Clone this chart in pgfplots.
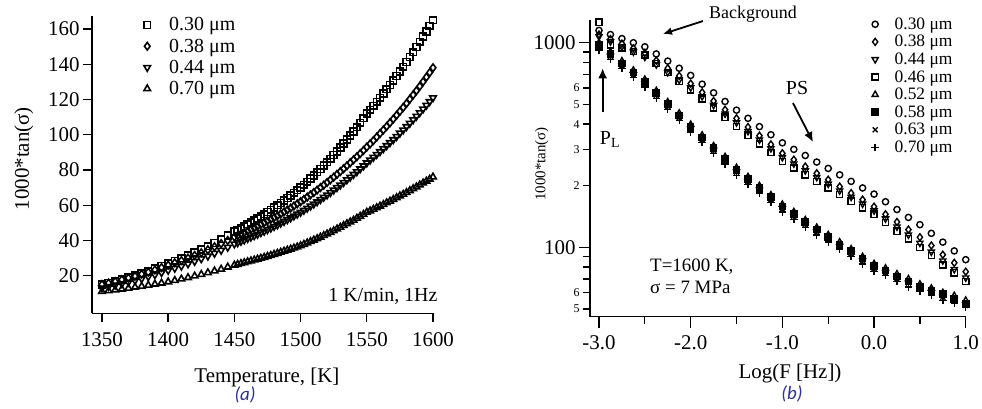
\documentclass[border=0pt]{standalone}
\usepackage{fontspec}
\setmainfont{Liberation Serif}
\newfontfamily\labfont{Carlito}
\usepackage{pgfplots}
\usepackage{pgfplotstable}
\pgfplotsset{compat=1.18}
\usetikzlibrary{arrows.meta}
\definecolor{labblue}{RGB}{45,50,140}

\pgfplotstableread{
T a b c d
1350 15.0 15.0 13.0 11.0
1355 15.9 15.8 13.8 11.5
1360 16.9 16.7 14.6 11.9
1365 17.9 17.7 15.4 12.4
1370 19.0 18.7 16.3 12.9
1375 20.1 19.7 17.3 13.5
1380 21.4 20.9 18.3 14.0
1385 22.6 22.0 19.4 14.6
1390 24.0 23.3 20.5 15.2
1395 25.5 24.6 21.7 15.8
1400 27.0 26.0 23.0 16.5
1405 28.4 27.3 24.2 17.3
1410 29.9 28.6 25.4 18.1
1415 31.5 30.0 26.7 18.9
1420 33.1 31.5 28.1 19.8
1425 34.9 33.0 29.6 20.7
1430 36.7 34.7 31.1 21.7
1435 38.6 36.4 32.7 22.7
1440 40.7 38.2 34.4 23.7
1445 42.8 40.0 36.1 24.9
1450 45.0 42.0 38.0 26.0
1452.5 46.0 42.8 38.7 26.4
1455 47.0 43.7 39.5 26.9
1457.5 48.1 44.5 40.3 27.4
1460 49.2 45.4 41.1 27.9
1462.5 50.3 46.3 41.9 28.4
1465 51.4 47.2 42.7 28.9
1467.5 52.5 48.1 43.5 29.4
1470 53.7 49.1 44.4 29.9
1472.5 54.9 50.1 45.2 30.4
1475 56.1 51.1 46.1 31.0
1477.5 57.4 52.0 47.0 31.5
1480 58.7 53.0 47.9 32.1
1482.5 60.0 54.0 48.8 32.7
1485 61.3 55.1 49.8 33.3
1487.5 62.7 56.2 50.8 33.9
1490 64.1 57.3 51.8 34.5
1492.5 65.5 58.4 52.8 35.1
1495 67.0 59.6 53.9 35.7
1497.5 68.5 60.8 54.9 36.3
1500 70.0 62.0 56.0 37.0
1502.5 71.6 63.3 57.1 37.8
1505 73.3 64.6 58.3 38.6
1507.5 75.1 65.9 59.5 39.4
1510 76.9 67.2 60.7 40.2
1512.5 78.7 68.6 61.9 41.0
1515 80.6 70.0 63.2 41.9
1517.5 82.5 71.4 64.5 42.8
1520 84.4 72.9 65.8 43.7
1522.5 86.4 74.4 67.2 44.6
1525 88.5 75.9 68.6 45.5
1527.5 90.6 77.5 70.0 46.5
1530 92.8 79.1 71.4 47.5
1532.5 95.0 80.7 72.9 48.5
1535 97.2 82.4 74.4 49.5
1537.5 99.5 84.1 75.9 50.5
1540 101.9 85.8 77.5 51.5
1542.5 104.3 87.5 79.0 52.6
1545 106.8 89.3 80.6 53.7
1547.5 109.4 91.1 82.3 54.8
1550 112.0 93.0 84.0 56.0
1552.5 114.2 94.8 85.6 56.8
1555 116.4 96.7 87.2 57.7
1557.5 118.7 98.7 88.8 58.6
1560 121.0 100.7 90.4 59.5
1562.5 123.4 102.7 92.1 60.4
1565 125.8 104.7 93.8 61.4
1567.5 128.2 106.8 95.5 62.3
1570 130.7 108.9 97.2 63.3
1572.5 133.3 111.1 99.0 64.3
1575 135.9 113.3 100.9 65.3
1577.5 138.6 115.5 102.7 66.2
1580 141.3 117.8 104.6 67.2
1582.5 144.1 120.2 106.5 68.3
1585 146.9 122.6 108.5 69.4
1587.5 149.8 125.0 110.5 70.4
1590 152.7 127.5 112.5 71.5
1592.5 155.7 130.1 114.6 72.6
1595 158.7 132.7 116.7 73.7
1597.5 161.8 135.3 118.8 74.8
1600 165.0 138.0 121.0 76.0
}\tabA

\pgfplotstableread{
x a b c d e f g h
-3     1148 1096 1072 1260 1000 975 950 920
-2.875 1096 1041 1012 977  902  879 857 830
-2.75  1047 989  955  944  813  793 772 748
-2.625 1000 939  902  907  733  715 696 674
-2.5   955  891  851  871  661  644 628 608
-2.375 881  818  781  790  582  567 553 535
-2.25  813  750  716  716  513  500 487 472
-2.125 750  688  657  649  452  441 429 416
-2     692  631  603  589  398  388 378 366
-1.875 627  572  546  531  353  344 335 325
-1.75  569  519  495  479  313  305 297 288
-1.625 516  470  449  432  277  270 263 255
-1.5   468  427  407  389  245  239 233 225
-1.375 427  387  369  353  221  215 210 203
-1.25  389  351  335  320  200  195 190 184
-1.125 355  318  304  290  180  176 171 166
-1     324  288  275  263  162  158 154 149
-0.875 301  268  256  244  149  145 142 137
-0.75  281  248  237  226  136  133 129 125
-0.625 261  230  220  210  125  122 119 115
-0.5   243  214  204  195  115  112 109 106
-0.375 226  198  189  181  106  103 101 98
-0.25  210  184  176  168  98   96  93  90
-0.125 195  171  163  156  90   88  86  83
0      182  158  151  145  83   81  79  76
0.125  167  145  138  132  79   77  75  73
0.25   153  133  126  120  74   72  70  68
0.375  140  122  115  110  70   68  67  64
0.5    129  112  105  100  66   64  63  61
0.625  117  102  95   91   63   61  60  58
0.75   106  92   86   82   60   59  57  55
0.875  96   84   78   75   58   56  55  53
1      87   76   71   68   55   53  52  51
}\tabB

\begin{document}
\begin{tikzpicture}
\useasboundingbox (0,0) rectangle (982bp,409bp);
% ---------------- panel (a)
\begin{axis}[
  at={(92bp,95.7bp)}, anchor=south west,
  width=341bp, height=297.3bp, scale only axis,
  xmin=1342.5, xmax=1600, ymin=-1.35, ymax=167.4,
  axis lines=left, axis line style={-, line width=1.4bp},
  tick align=outside, major tick length=9bp,
  every tick/.style={line width=1.3bp, black},
  xtick={1350,1400,...,1600}, ytick={20,40,...,160},
  /pgf/number format/assume math mode=true,
  /pgf/number format/1000 sep={},
  tick label style={font=\fontsize{21}{23}\selectfont},
  xticklabel style={yshift=-7bp},
  xlabel={Temperature, [K]}, ylabel={1000*tan(σ)},
  label style={font=\fontsize{21}{23}\selectfont},
  xlabel style={at={(axis description cs:0.513,-0.215)}, anchor=center},
  ylabel style={at={(axis description cs:-0.2,0.52)}, anchor=center},
  clip=false,
  legend style={draw=none, fill=none, at={(axis description cs:0.135,0.9985)}, anchor=north west,
    font=\fontsize{20}{22}\selectfont, row sep=4.5bp, inner sep=0pt,
    nodes={inner sep=1bp}},
  legend cell align=left,
  every axis plot/.append style={only marks, black, mark size=3.4bp, mark options={line width=1.6bp},
    legend image code/.code={\path[draw=none] (0bp,0bp) -- (30bp,0bp); \draw[##1,only marks] plot coordinates {(9bp,0bp)};}},
]
\addplot[mark=square] table[x=T,y=a] {\tabA}; \addlegendentry{0.30 μm}
\addplot[mark=diamond, mark size=3.8bp] table[x=T,y=b] {\tabA}; \addlegendentry{0.38 μm}
\addplot[mark=triangle, mark size=3.8bp, mark options={line width=1.6bp, rotate=180}] table[x=T,y=c] {\tabA}; \addlegendentry{0.44 μm}
\addplot[mark=triangle, mark size=3.8bp] table[x=T,y=d] {\tabA}; \addlegendentry{0.70 μm}
\node[anchor=east, font=\fontsize{20}{22}\selectfont] at (axis cs:1606,8) {1 K/min, 1Hz};
\node[font=\labfont\itshape\fontsize{19}{21}\selectfont, text=labblue] at (axis description cs:0.449,-0.276) {(a)};
\end{axis}
% ---------------- panel (b)
\begin{axis}[
  at={(590bp,92.3bp)}, anchor=south west,
  width=376bp, height=296.7bp, scale only axis,
  xmin=-3.098, xmax=1.003, ymode=log, ymin=45.8, ymax=1291,
  axis lines=left, axis line style={-, line width=1.4bp},
  tick align=outside, major tick length=11bp, minor tick length=7bp,
  every tick/.style={line width=1.3bp, black},
  xtick={-3,-2,-1,0,1}, xticklabels={-3.0,-2.0,-1.0,0.0,1.0},
  minor xtick={-2.5,-1.5,-0.5,0.5},
  ytick={100,1000}, yticklabels={100,1000},
  minor ytick={50,60,70,80,90,200,300,400,500,600,700,800,900},
  extra y ticks={50,60,200,300,400,500,600}, extra y tick labels={5,6,2,3,4,5,6},
  extra y tick style={major tick length=7bp, tick label style={font=\fontsize{12}{13}\selectfont}},
  /pgf/number format/assume math mode=true,
  tick label style={font=\fontsize{21}{23}\selectfont},
  xticklabel style={yshift=-4bp},
  xlabel={Log(F [Hz])}, ylabel={1000*tan(σ)},
  xlabel style={font=\fontsize{21}{23}\selectfont, at={(axis description cs:0.532,-0.19)}, anchor=center},
  ylabel style={font=\fontsize{15}{17}\selectfont, at={(axis description cs:-0.128,0.515)}, anchor=center},
  clip=false,
  legend style={draw=none, fill=none, at={(axis description cs:0.734,1.010)}, anchor=north west,
    font=\fontsize{17.5}{19}\selectfont, row sep=3.5bp, inner sep=0pt,
    nodes={inner sep=0.5bp}},
  legend cell align=left,
  every axis plot/.append style={only marks, black, mark size=3.1bp, mark options={line width=1.4bp},
    legend image code/.code={\path[draw=none] (0bp,0bp) -- (28bp,0bp); \draw[##1,only marks] plot coordinates {(9bp,0bp)};}},
]
\addplot[mark=o] table[x=x,y=a] {\tabB}; \addlegendentry{0.30 μm}
\addplot[mark=diamond, mark size=3.5bp] table[x=x,y=b] {\tabB}; \addlegendentry{0.38 μm}
\addplot[mark=triangle, mark size=3.5bp, mark options={line width=1.4bp, rotate=180}] table[x=x,y=c] {\tabB}; \addlegendentry{0.44 μm}
\addplot[mark=square] table[x=x,y=d] {\tabB}; \addlegendentry{0.46 μm}
\addplot[mark=triangle, mark size=3.5bp] table[x=x,y=e] {\tabB}; \addlegendentry{0.52 μm}
\addplot[mark=square*, mark options={line width=1.4bp, fill=black}] table[x=x,y=f] {\tabB}; \addlegendentry{0.58 μm}
\addplot[mark=x, mark size=3.5bp] table[x=x,y=g] {\tabB}; \addlegendentry{0.63 μm}
\addplot[mark=+, mark size=3.7bp] table[x=x,y=h] {\tabB}; \addlegendentry{0.70 μm}
\node[font=\fontsize{18}{20}\selectfont] at (axis cs:-1.32,1380) {Background};
\draw[-{Latex[length=9bp,width=8bp]}, line width=1.8bp] (axis cs:-1.866,1276) -- (axis cs:-2.302,1103);
\draw[-{Latex[length=10bp,width=9bp]}, line width=1.8bp] (axis cs:-2.96,460) -- (axis cs:-2.96,750);
\node[font=\fontsize{20}{22}\selectfont] at (axis cs:-2.88,335) {P\textsubscript{L}};
\node[font=\fontsize{20}{22}\selectfont] at (axis cs:-0.84,601) {PS};
\draw[-{Latex[length=10bp,width=9bp]}, line width=1.8bp] (axis cs:-0.884,507) -- (axis cs:-0.666,327);
\node[anchor=west, font=\fontsize{19}{21}\selectfont] at (axis cs:-2.48,80) {T=1600 K,};
\node[anchor=west, font=\fontsize{19}{21}\selectfont] at (axis cs:-2.48,64) {σ = 7 MPa};
\node[font=\labfont\itshape\fontsize{19}{21}\selectfont, text=labblue] at (axis description cs:0.537,-0.259) {(b)};
\end{axis}
\end{tikzpicture}
\end{document}
